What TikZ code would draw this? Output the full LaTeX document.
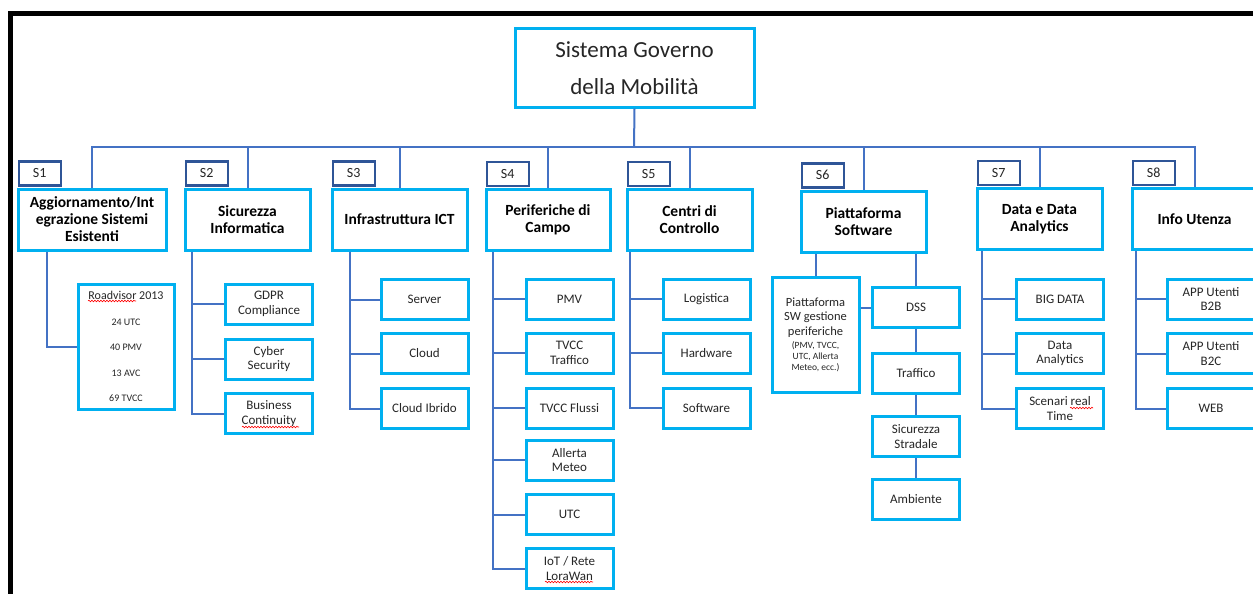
\documentclass[tikz,border=0pt]{standalone}
\usepackage{fontspec}
\setmainfont{Carlito}
\usetikzlibrary{positioning, decorations.pathmorphing}
\definecolor{boxblue}{RGB}{0,176,240}
\definecolor{lineblue}{RGB}{68,114,196}
\definecolor{tagblue}{RGB}{47,85,151}
\definecolor{textgrey}{RGB}{38,38,38}

\tikzset{
    topbox/.style={draw=boxblue, line width=3pt, fill=white, align=center, inner sep=0pt,
        text=textgrey, font=\fontsize{23}{37}\selectfont},
    areabox/.style={draw=boxblue, line width=3pt, fill=white, align=center, inner sep=0pt,
        minimum width=125pt, minimum height=61pt, text=black, font=\bfseries\fontsize{15.5}{17}\selectfont},
    itembox/.style={draw=boxblue, line width=3pt, fill=white, align=center, inner sep=0pt,
        minimum width=87pt, minimum height=40pt, text=textgrey, font=\fontsize{13}{14.5}\selectfont},
    tagbox/.style={draw=tagblue, line width=2.5pt, fill=white, inner sep=0pt, anchor=south west,
        minimum width=42pt, minimum height=24pt, text=textgrey, font=\fontsize{14}{16}\selectfont},
    link/.style={draw=lineblue, line width=2pt},
    spell/.style={draw=red, line width=0.6pt, decorate,
        decoration={snake, amplitude=0.8pt, segment length=3pt}}
}

\begin{document}
\begin{tikzpicture}[x=1pt, y=-1pt]
    \useasboundingbox (0,0) rectangle (1253,594);
    \draw[line width=5pt] (10.5,594) -- (10.5,13.5) -- (1253,13.5);

    % root
    \node[topbox, minimum width=239pt, minimum height=78pt] (SGM) at (634.5,68) {Sistema Governo\\della Mobilità};

    % areas
    \node[areabox, minimum width=148pt] (S1) at (92,219.5) {Aggiornamento/Int\\egrazione Sistemi\\Esistenti};
    \node[areabox] (S2) at (247.5,219.5) {Sicurezza\\Informatica};
    \node[areabox, minimum width=135pt] (S3) at (399.5,219.5) {Infrastruttura ICT};
    \node[areabox, minimum width=124pt] (S4) at (548,220) {Periferiche di\\Campo};
    \node[areabox] (S5) at (689.5,220) {Centri di\\Controllo};
    \node[areabox] (S6) at (863.5,221.5) {Piattaforma\\Software};
    \node[areabox] (S7) at (1039.5,219) {Data e Data\\Analytics};
    \node[areabox] (S8) at (1194.5,219) {Info Utenza};

    \node[tagbox] (T1) at ([xshift=1pt, yshift=1pt]S1.north west) {S1};
    \node[tagbox] (T2) at ([xshift=1pt, yshift=1pt]S2.north west) {S2};
    \node[tagbox] (T3) at ([xshift=1pt, yshift=1pt]S3.north west) {S3};
    \node[tagbox] (T4) at ([xshift=1pt, yshift=1pt]S4.north west) {S4};
    \node[tagbox] (T5) at ([xshift=1pt, yshift=1pt]S5.north west) {S5};
    \node[tagbox] (T6) at ([xshift=1pt, yshift=1pt]S6.north west) {S6};
    \node[tagbox] (T7) at ([xshift=1pt, yshift=1pt]S7.north west) {S7};
    \node[tagbox] (T8) at ([xshift=1pt, yshift=1pt]S8.north west) {S8};

    % items
    \node[itembox, minimum width=96pt, minimum height=125pt, font=\fontsize{10}{25.5}\selectfont] (S1a) at (126,346.5)
        {\fontsize{12}{14}\selectfont Roadvisor 2013\\24 UTC\\40 PMV\\13 AVC\\69 TVCC};

    \node[itembox] (S2a) at (269,304) {GDPR\\Compliance};
    \node[itembox] (S2b) at (269,359) {Cyber\\Security};
    \node[itembox] (S2c) at (269,413.5) {Business\\Continuity};

    \node[itembox] (S3a) at (424.5,299.5) {Server};
    \node[itembox] (S3b) at (424.5,353.5) {Cloud};
    \node[itembox] (S3c) at (424.5,408.5) {Cloud Ibrido};

    \node[itembox] (S4a) at (569.5,299) {PMV};
    \node[itembox] (S4b) at (569.5,353) {TVCC\\Traffico};
    \node[itembox] (S4c) at (569.5,408) {TVCC Flussi};
    \node[itembox] (S4d) at (569.5,460) {Allerta\\Meteo};
    \node[itembox] (S4e) at (569.5,514.5) {UTC};
    \node[itembox] (S4f) at (569.5,568.5) {IoT / Rete\\LoraWan};

    \node[itembox] (S5a) at (706.5,299) {Logistica};
    \node[itembox] (S5b) at (706.5,353) {Hardware};
    \node[itembox] (S5c) at (706.5,408) {Software};

    \node[itembox, minimum height=115pt, font=\fontsize{9.5}{11}\selectfont] (S6a) at (815.5,334.5)
        {\fontsize{12.5}{14.5}\selectfont Piattaforma\\[3.5pt]\fontsize{12.5}{14.5}\selectfont SW gestione\\[3.5pt]\fontsize{12.5}{14.5}\selectfont periferiche\\[2pt](PMV, TVCC,\\UTC, Allerta\\Meteo, ecc.)};
    \node[itembox] (S6b) at (916,307.5) {DSS};
    \node[itembox] (S6c) at (916,373) {Traffico};
    \node[itembox] (S6d) at (916,436.5) {Sicurezza\\Stradale};
    \node[itembox] (S6e) at (916,499) {Ambiente};

    \node[itembox] (S7a) at (1060,299) {BIG DATA};
    \node[itembox] (S7b) at (1060,353.5) {Data\\Analytics};
    \node[itembox] (S7c) at (1060,408.5) {Scenari real\\Time};

    \node[itembox, minimum width=88pt] (S8a) at (1211,299) {APP Utenti\\B2B};
    \node[itembox, minimum width=88pt] (S8b) at (1211,353.5) {APP Utenti\\B2C};
    \node[itembox, minimum width=88pt] (S8c) at (1211,408.5) {WEB};

    % bus
    \coordinate (bus) at (634,147);
    \draw[link] (SGM.south) -- (bus);
    \draw[link] (S1.north) |- (S8.north |- bus) -- (S8.north);
    \draw[link] (S2.north) -- (S2.north |- bus);
    \draw[link] (S3.north) -- (S3.north |- bus);
    \draw[link] (S4.north) -- (S4.north |- bus);
    \draw[link] (S5.north) -- (S5.north |- bus);
    \draw[link] (S6.north) -- (S6.north |- bus);
    \draw[link] (S7.north) -- (S7.north |- bus);

    % branches
    \draw[link] ([xshift=30pt]S1.south west) |- (S1a.west);

    \draw[link] ([xshift=8pt]S2.south west) |- (S2a.west);
    \draw[link] ([xshift=8pt]S2.south west) |- (S2b.west);
    \draw[link] ([xshift=8pt]S2.south west) |- (S2c.west);

    \draw[link] ([xshift=19pt]S3.south west) |- (S3a.west);
    \draw[link] ([xshift=19pt]S3.south west) |- (S3b.west);
    \draw[link] ([xshift=19pt]S3.south west) |- (S3c.west);

    \draw[link] ([xshift=8pt]S4.south west) |- (S4a.west);
    \draw[link] ([xshift=8pt]S4.south west) |- (S4b.west);
    \draw[link] ([xshift=8pt]S4.south west) |- (S4c.west);
    \draw[link] ([xshift=8pt]S4.south west) |- (S4d.west);
    \draw[link] ([xshift=8pt]S4.south west) |- (S4e.west);
    \draw[link] ([xshift=8pt]S4.south west) |- (S4f.west);

    \draw[link] ([xshift=4pt]S5.south west) |- (S5a.west);
    \draw[link] ([xshift=4pt]S5.south west) |- (S5b.west);
    \draw[link] ([xshift=4pt]S5.south west) |- (S5c.west);

    \draw[link] (S6a.north) -- (S6a.north |- S6.south);
    \draw[link] (S6b.north) -- (S6b.north |- S6.south);
    \draw[link] (S6b.west) -- (S6b.west -| S6a.east);
    \draw[link] (S6b.south) -- (S6c.north);
    \draw[link] (S6c.south) -- (S6d.north);
    \draw[link] (S6d.south) -- (S6e.north);

    \draw[link] ([xshift=6pt]S7.south west) |- (S7a.west);
    \draw[link] ([xshift=6pt]S7.south west) |- (S7b.west);
    \draw[link] ([xshift=6pt]S7.south west) |- (S7c.west);

    \draw[link] ([xshift=5pt]S8.south west) |- (S8a.west);
    \draw[link] ([xshift=5pt]S8.south west) |- (S8b.west);
    \draw[link] ([xshift=5pt]S8.south west) |- (S8c.west);

    % spell check marks
    \draw[spell] (88,301) -- (136,301);
    \draw[spell] (242,427) -- (299,427);
    \draw[spell] (545,582) -- (593,582);
    \draw[spell] (1070,408) -- (1093,408);
\end{tikzpicture}
\end{document}
